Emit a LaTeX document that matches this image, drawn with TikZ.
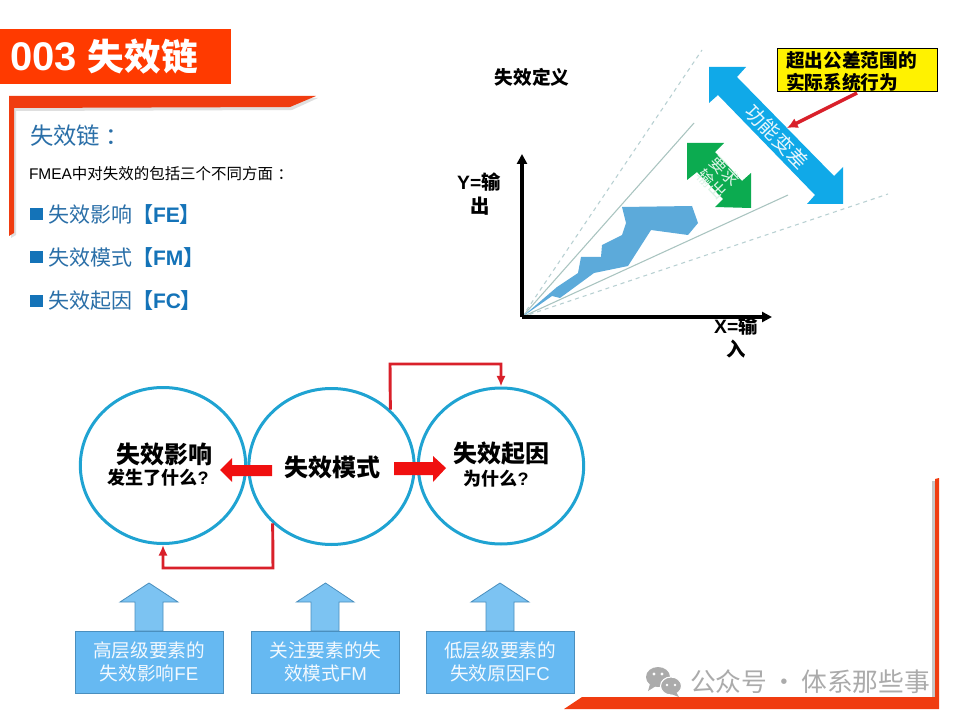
\documentclass[tikz,border=0pt]{standalone}
\usepackage{fontspec}
\setmainfont{Noto Sans CJK SC}
\newfontfamily\latf{Liberation Sans}
\usetikzlibrary{shapes.geometric,arrows.meta}
\definecolor{titlered}{HTML}{FF3A00}
\definecolor{bracketred}{HTML}{F03C10}
\definecolor{headblue}{HTML}{2A6FA8}
\definecolor{squareblue}{HTML}{1473B8}
\definecolor{ringblue}{HTML}{1FA3D2}
\definecolor{boxblue}{HTML}{66B9F2}
\definecolor{boxedge}{HTML}{4A8FBE}
\definecolor{arrowblue}{HTML}{7CC3F2}
\definecolor{linkred}{HTML}{D9202A}
\definecolor{blockred}{HTML}{F01010}
\definecolor{polyblue}{HTML}{5CAADA}
\definecolor{bigblue}{HTML}{10A9E8}
\definecolor{greenblock}{HTML}{0CAB50}
\definecolor{dashline}{HTML}{B8D0D2}
\definecolor{solidline}{HTML}{A9C4C0}
\definecolor{wmgray}{HTML}{ABABAB}
\tikzset{
  ring/.style={ellipse,draw=ringblue,line width=2.25pt,minimum width=124pt,minimum height=117pt,inner sep=0pt},
  plain/.style={inner sep=0pt,outer sep=0pt},
  bigtitle/.style={plain,font=\fontsize{18}{22}\selectfont\bfseries,text=black},
  subtitle/.style={plain,font=\fontsize{13.5}{17}\selectfont\bfseries,text=black},
  bullettext/.style={plain,anchor=west,text=headblue,font=\fontsize{15.75}{19}\selectfont},
  bulletsq/.style={plain,fill=squareblue,minimum width=9.75pt,minimum height=9pt},
  boxtext/.style={plain,text=white!92!boxblue,align=center,font=\fontsize{14}{17.25}\selectfont},
  infobox/.style={plain,draw=boxedge,fill=boxblue,line width=.6pt,minimum width=111pt,minimum height=46.5pt},
  uparrow/.style={draw=boxedge,fill=arrowblue,line width=.6pt},
  axislabel/.style={plain,font=\fontsize{14.5}{17}\selectfont\bfseries,text=black},
  link/.style={draw=linkred,line width=2.2pt},
  linktip/.style={-{Latex[length=8pt,width=7pt]}},
  axisline/.style={black,line width=2.6pt,-{Triangle[length=7.5pt,width=7.5pt]}}
}
\begin{document}
\begin{tikzpicture}[x=0.75pt,y=-0.75pt]
\useasboundingbox (0,0) rectangle (960,720);
\fill[white] (0,0) rectangle (960,720);

% title
\fill[titlered] (0,29) rectangle (231,84);
\node[plain,anchor=west,text=white,font=\fontsize{27.5}{30}\selectfont\bfseries] (title) at (10,57) {{\latf\fontsize{30}{30}\selectfont 003 }失效链};

% top-left bracket
\fill[gray!25] (11,98) -- (318,98) -- (292,110) -- (16,111) -- (16,235) -- (11,238) -- cycle;
\fill[bracketred] (9,96) -- (316,96) -- (290,107) -- (14,108) -- (14,233) -- (9,236) -- cycle;

% left text
\node[plain,anchor=west,text=headblue,font=\fontsize{17.5}{20}\selectfont] (chainhead) at (30,136) {失效链\kern.25em：};
\node[plain,anchor=west,text=black,font=\fontsize{11.6}{14}\selectfont] (fmeatext) at (29,174) {{\latf FMEA}中对失效的包括三个不同方面\kern.3em：};
\node[bulletsq] (sq1) at (36.5,214) {};
\node[bullettext] (fe) at (48,215) {失效影响\textcolor{squareblue}{\bfseries 【{\latf FE}】}};
\node[bulletsq] (sq2) at (36.5,257) {};
\node[bullettext] (fm) at (48,258) {失效模式\textcolor{squareblue}{\bfseries 【{\latf FM}】}};
\node[bulletsq] (sq3) at (36.5,301) {};
\node[bullettext] (fc) at (48,301) {失效起因\textcolor{squareblue}{\bfseries 【{\latf FC}】}};

% chart
\coordinate (origin) at (522,317);
\coordinate (ytop) at (522,154);
\coordinate (xright) at (772,317);
\coordinate (dashA) at (702,50);
\coordinate (dashB) at (888,194);
\coordinate (solidA) at (694,123);
\coordinate (solidB) at (788,195);
\draw[dashline,dashed,line width=.8pt] (origin) -- (dashA);
\draw[dashline,dashed,line width=.8pt] (origin) -- (dashB);
\draw[solidline,line width=.8pt] (origin) -- (solidA);
\draw[solidline,line width=.8pt] (origin) -- (solidB);
\fill[polyblue] (522,317) -- (557,287) -- (578,273) -- (581,257) -- (601,257) -- (602,245) -- (622,235) -- (626,223) -- (622,207) -- (692,206) -- (698,223) -- (688,235) -- (651,230) -- (628,266) -- (594,273) -- (560,298) -- (552,296) -- cycle;
\draw[axisline] (origin) -- (ytop);
\draw[axisline] (origin) -- (xright);

\fill[bigblue] (709,67) -- (746,67) -- (737,77) -- (834,176) -- (843,167) -- (843,204) -- (807,204) -- (815,195) -- (718,95) -- (709,103) -- cycle;
\fill[greenblock] (687,143) -- (724,143) -- (715,152) -- (742,181) -- (751,173) -- (751,208) -- (715,207) -- (723,199) -- (697,172) -- (687,180) -- cycle;
\node[plain,rotate=-46,text=white!90!bigblue,font=\fontsize{15}{18}\selectfont] (tol) at (777,137) {功能变差};
\node[plain,rotate=-46,text=white!85!greenblock,align=center,font=\fontsize{12.5}{13.7}\selectfont] (req) at (718.5,177.5) {要求\\输出};

\node[plain,anchor=north west,draw=black,fill=yellow,line width=.75pt,minimum width=120pt,minimum height=32.25pt] (ybox) at (777,49) {};
\node[plain,anchor=west,font=\fontsize{14}{16}\selectfont\bfseries,text=black] (y1) at (786,60) {超出公差范围的};
\node[plain,anchor=west,font=\fontsize{14}{16}\selectfont\bfseries,text=black] (y2) at (786,82) {实际系统行为};
\coordinate (hit) at (787,128);
\draw[linkred,line width=2.6pt,-{Latex[length=8pt,width=8pt]}] (857,93) -- (hit);

\node[plain,font=\fontsize{14}{17}\selectfont\bfseries,text=black] (deftitle) at (532,77) {失效定义};
\node[axislabel] (ylab1) at (479,182) {{\latf Y=}输};
\node[axislabel] (ylab2) at (480,206) {出};
\node[axislabel] (xlab1) at (736,326) {{\latf X=}输};
\node[axislabel] (xlab2) at (736,349) {入};

% circles
\node[ring] (c1) at (163,465.5) {};
\node[ring] (c2) at (331.5,466.5) {};
\node[ring] (c3) at (501,466) {};

% connectors
\coordinate (bendA) at (390,364);
\coordinate (bendB) at (273,568);
\draw[link,linktip] (c2.44) -- (bendA) -| (c3.north);
\draw[link,linktip] (c2.224) -- (bendB) -| (c1.south);

% block arrows
\fill[blockred] (272,465) -- (232,465) -- (232,458) -- (220,470) -- (232,482) -- (232,476) -- (272,476) -- cycle;
\fill[blockred] (394,462) -- (433,462) -- (433,456) -- (446,468) -- (433,482) -- (433,475) -- (394,475) -- cycle;

% circle text
\node[bigtitle] (t1) at (164,454) {失效影响};
\node[subtitle] (t1b) at (158,478) {发生了什么{\latf ?}};
\node[bigtitle] (t2) at (332,467) {失效模式};
\node[bigtitle] (t3) at (501,454) {失效起因};
\node[subtitle] (t3b) at (496,479) {为什么{\latf ?}};

% up arrows
\draw[uparrow] (149,583) -- (178,602) -- (163,602) -- (163,631) -- (135,631) -- (135,602) -- (120,602) -- cycle;
\draw[uparrow] (325.5,583) -- (354,602) -- (339,602) -- (339,631) -- (311,631) -- (311,602) -- (296.5,602) -- cycle;
\draw[uparrow] (500,583) -- (529,602) -- (514,602) -- (514,631) -- (486,631) -- (486,602) -- (471,602) -- cycle;

% boxes
\node[infobox] (b1) at (149,662) {};
\node[infobox] (b2) at (325.5,662) {};
\node[infobox] (b3) at (500,662) {};
\node[boxtext] (b1t) at (149,661.5) {高层级要素的\\失效影响{\latf FE}};
\node[boxtext] (b2t) at (325.5,661.5) {关注要素的失\\效模式{\latf FM}};
\node[boxtext] (b3t) at (500,661.5) {低层级要素的\\失效原因{\latf FC}};

% bottom-right bracket
\fill[gray!45] (932,481) rectangle (935.5,697);
\fill[bracketred] (935,479) -- (939,478) -- (939,709) -- (564,709) -- (582,697) -- (935,697) -- cycle;

% watermark
\fill[wmgray] (658,677) ellipse [x radius=12,y radius=10];
\fill[wmgray] (650,684) -- (648,691) -- (656,686) -- cycle;
\filldraw[fill=wmgray,draw=white,line width=.8pt] (671,686) ellipse [x radius=10.5,y radius=9];
\fill[wmgray] (676,692) -- (679,697) -- (671,694) -- cycle;
\fill[white] (654,674) circle [radius=1.6];
\fill[white] (662,674) circle [radius=1.6];
\fill[white] (667,685) circle [radius=1.3];
\fill[white] (675,685) circle [radius=1.3];
\node[plain,anchor=west,text=wmgray,font=\fontsize{19.3}{22}\selectfont] (wm) at (690,682) {公众号\,·\,体系那些事};
\end{tikzpicture}
\end{document}
